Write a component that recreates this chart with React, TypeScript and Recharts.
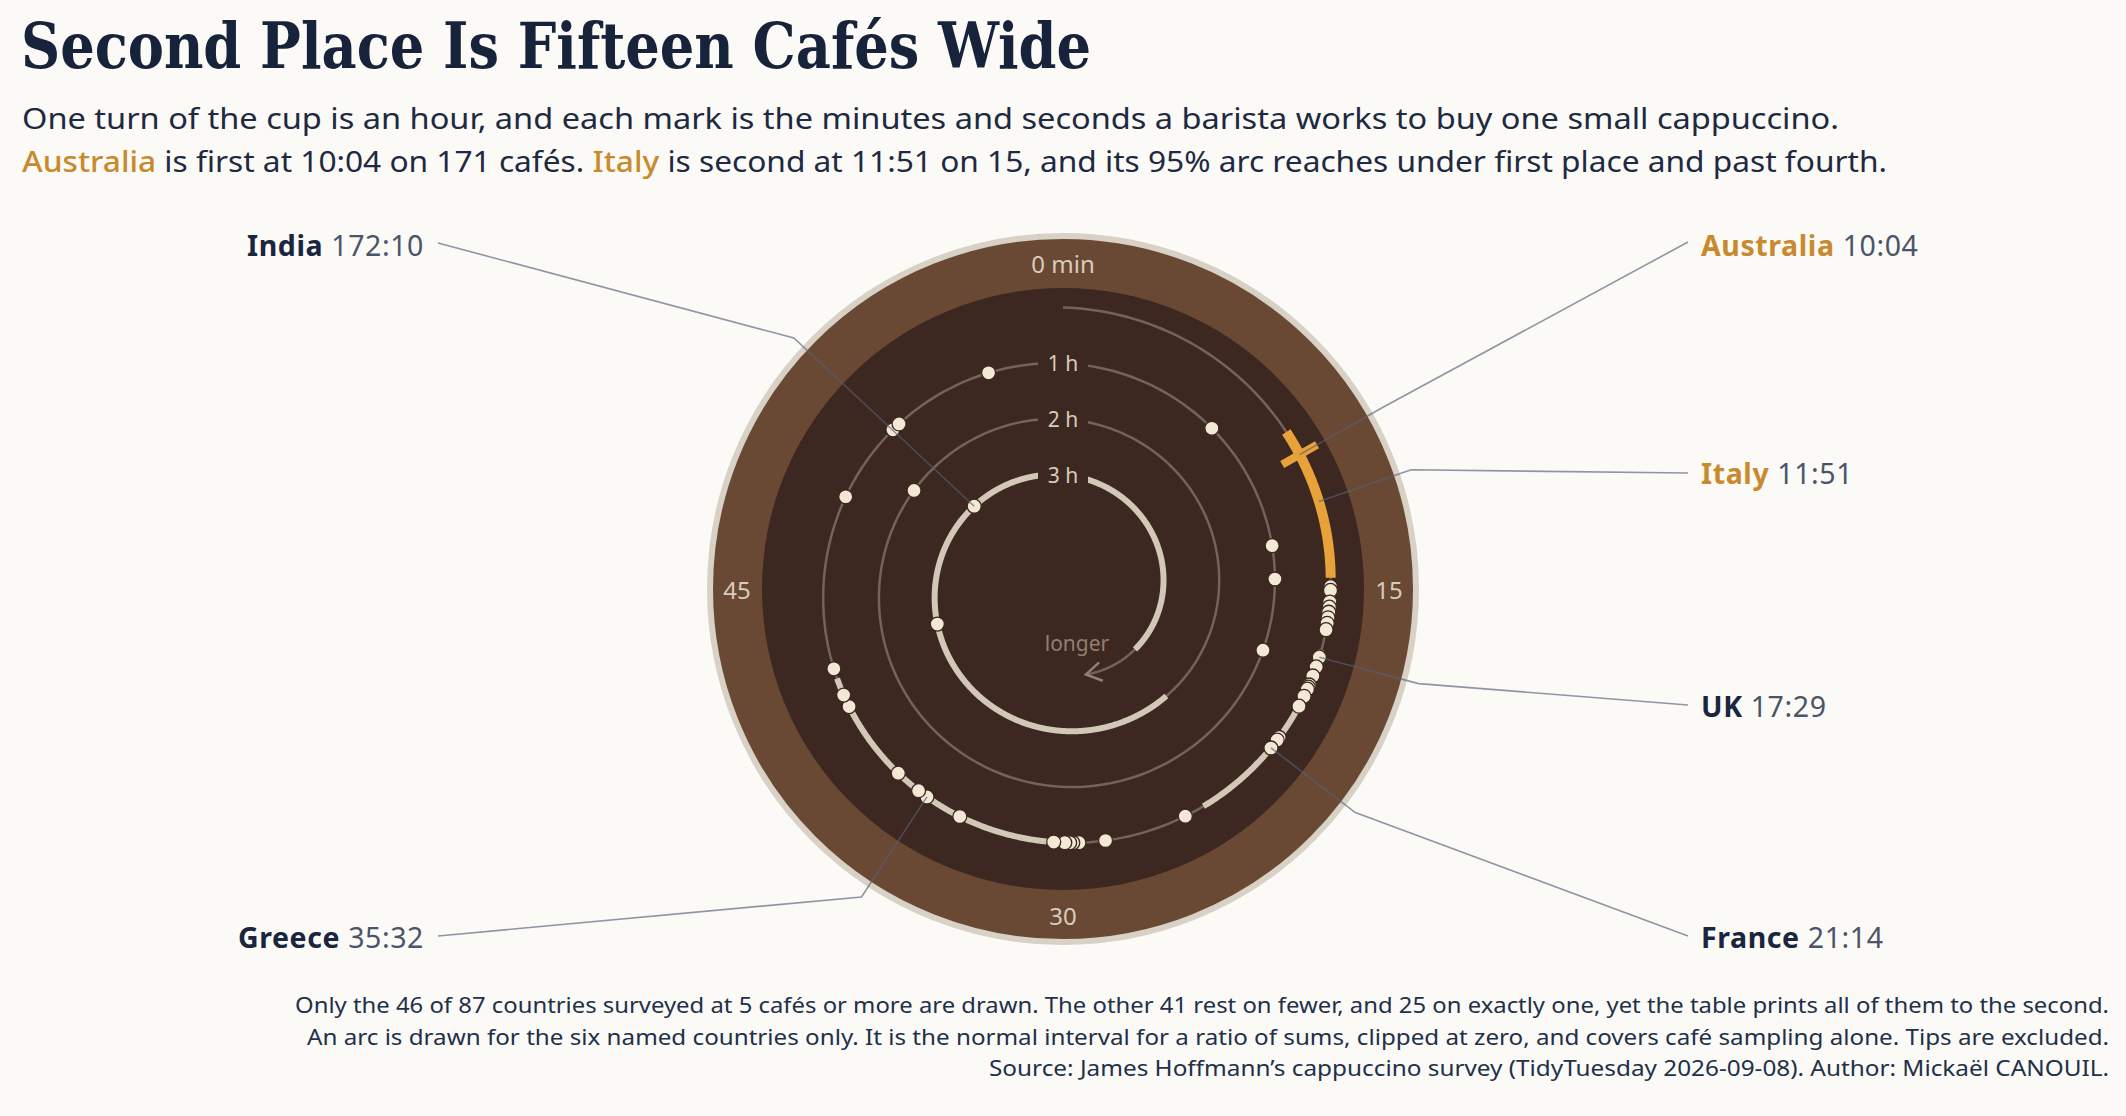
import React from 'react';
import { ScatterChart, Scatter, XAxis, YAxis } from 'recharts';

// ---------- data ----------
const surveyTimes: string[] = [
  '10:04', '11:51', '14:55', '15:03', '15:28', '15:39', '15:50', '16:02', '16:14', '16:28',
  '17:29', '17:51', '18:12', '18:33', '18:38', '18:43', '19:00', '19:24', '20:45', '20:52',
  '21:14', '25:17', '28:24', '29:24', '29:38', '29:45', '29:56', '30:21', '34:04', '35:32',
  '35:56', '36:58', '40:12', '40:42', '41:48', '48:50', '52:11', '52:32', '56:50', '67:08',
  '73:03', '74:33', '77:50', '110:35', '162:24', '172:10',
];

const namedCountries: string[] = ['Australia', 'Italy', 'UK', 'France', 'Greece', 'India'];
const namedTimes: string[] = ['10:04', '11:51', '17:29', '21:14', '35:32', '172:10'];
const namedLow: string[] = ['9:55', '9:09', '17:13', '17:57', '29:40', '142:40'];
const namedHigh: string[] = ['10:13', '14:36', '17:45', '24:31', '41:24', '201:40'];
const highlighted: string[] = ['Australia', 'Italy'];

const angleTicks: number[] = [0, 15, 30, 45];
const angleTickLabels: string[] = ['0 min', '15', '30', '45'];
const hourTicks: number[] = [60, 120, 180];
const hourTickLabels: string[] = ['1 h', '2 h', '3 h'];
const spiralEndMinutes = 207.5;

// ---------- layout / style ----------
const W = 2126;
const H = 1116;
const CX = 1063;
const CY = 589;
const R0 = 281.5;
const K = 0.93;
const TICK_R = 326;
const ELBOW_R = 368;

const labelLayout: Record<string, { side: 'left' | 'right'; ax: number; ay: number; tx: number; ty: number }> = {
  India: { side: 'left', ax: 438, ay: 243, tx: 424, ty: 256 },
  Greece: { side: 'left', ax: 438, ay: 936, tx: 424, ty: 948 },
  Australia: { side: 'right', ax: 1688, ay: 242, tx: 1701, ty: 256 },
  Italy: { side: 'right', ax: 1688, ay: 473, tx: 1701, ty: 484 },
  UK: { side: 'right', ax: 1688, ay: 705, tx: 1701, ty: 717 },
  France: { side: 'right', ax: 1688, ay: 936, tx: 1701, ty: 948 },
};

const C = {
  page: '#FBFAF6',
  rim: '#D8D1C5',
  ring: '#6A4934',
  cup: '#3C2820',
  spiral: '#72645A',
  arc: '#D3C7B7',
  orange: '#E8A23A',
  orangeText: '#C98A2E',
  dot: '#F3E7D5',
  navy: '#17233B',
  grey: '#4B556A',
  leader: '#566078',
  ringText: '#D8CCBC',
  muted: '#8F7F71',
};

// ---------- helpers ----------
const toMin = (s: string) => {
  const [m, sec] = s.split(':').map(Number);
  return m + sec / 60;
};
const radius = (t: number) => R0 - K * t;
const polar = (t: number, r: number = radius(t)) => {
  const a = ((t % 60) / 60) * 2 * Math.PI;
  return { x: r * Math.sin(a), y: r * Math.cos(a) };
};
const along = (lo: number, hi: number, step: number) => {
  const pts: { x: number; y: number }[] = [];
  for (let t = lo; t < hi; t += step) pts.push(polar(t));
  pts.push(polar(hi));
  return pts;
};

const spiralPts = along(0, spiralEndMinutes, 0.25);
const last = spiralPts[spiralPts.length - 1];
const prev = polar(spiralEndMinutes - 0.6);
const arrowLen = Math.hypot(last.x - prev.x, last.y - prev.y);
const arrowData = [{ ...last, ux: (last.x - prev.x) / arrowLen, uy: -(last.y - prev.y) / arrowLen }];

const dotData = surveyTimes
  .filter((s) => {
    const i = namedTimes.indexOf(s);
    return !(i >= 0 && highlighted.includes(namedCountries[i]));
  })
  .map((s) => polar(toMin(s)));

const arcs = namedCountries.map((n, i) => ({
  name: n,
  pts: along(toMin(namedLow[i]), toMin(namedHigh[i]), 0.05),
}));

const ausT = toMin(namedTimes[0]);
const ausTick = [polar(ausT, radius(ausT) - 20), polar(ausT, radius(ausT) + 20)];

const angleTickData = angleTicks.map((m, i) => ({ ...polar(m, TICK_R), label: angleTickLabels[i] }));
const hourTickData = hourTicks.map((t, i) => ({ ...polar(t), label: hourTickLabels[i] }));

const leaders = namedCountries.map((n, i) => {
  const t = toMin(namedTimes[i]);
  const L = labelLayout[n];
  return { name: n, pts: [polar(t), polar(t, ELBOW_R), { x: L.ax - CX, y: CY - L.ay }] };
});

// ---------- shapes ----------
const Empty = () => <g />;
const CupShape = (p: any) => (
  <g>
    <circle cx={p.cx} cy={p.cy} r={353} fill={C.ring} stroke={C.rim} strokeWidth={6} />
    <circle cx={p.cx} cy={p.cy} r={301} fill={C.cup} />
  </g>
);
const DotShape = (p: any) => (
  <circle cx={p.cx} cy={p.cy} r={7} fill={C.dot} stroke="#3B271F" strokeWidth={1.3} />
);
const AngleLabel = (p: any) => (
  <text x={p.cx} y={p.cy} textAnchor="middle" dominantBaseline="central" fontFamily="Noto Sans" fontSize={24} fill={C.ringText}>
    {p.payload.label}
  </text>
);
const HourLabel = (p: any) => (
  <g>
    <rect x={p.cx - 25} y={p.cy - 14} width={50} height={28} fill={C.cup} />
    <text x={p.cx} y={p.cy} textAnchor="middle" dominantBaseline="central" fontFamily="Noto Sans" fontSize={21} fill={C.ringText}>
      {p.payload.label}
    </text>
  </g>
);
const ArrowShape = (p: any) => {
  const { cx, cy, payload } = p;
  const L = 18;
  const a = 0.55;
  const arm = (s: number) => {
    const bx = -payload.ux;
    const by = -payload.uy;
    const c = Math.cos(s * a);
    const sn = Math.sin(s * a);
    return `${cx + (bx * c - by * sn) * L},${cy + (bx * sn + by * c) * L}`;
  };
  return <polyline points={`${arm(1)} ${cx},${cy} ${arm(-1)}`} fill="none" stroke={C.muted} strokeWidth={2.5} strokeLinejoin="miter" />;
};

const sans = 'Noto Sans, Lato, sans-serif';

export default function App() {
  return (
    <div style={{ position: 'absolute', left: 0, top: 0, width: W, height: H, background: C.page, overflow: 'hidden' }}>
      <div style={{ position: 'absolute', left: 0, top: 0 }}>
        <ScatterChart width={W} height={H} margin={{ top: 0, right: 0, bottom: 0, left: 0 }}>
          <XAxis type="number" dataKey="x" domain={[-CX, W - CX]} hide allowDataOverflow />
          <YAxis type="number" dataKey="y" domain={[CY - H, CY]} hide allowDataOverflow />
          <Scatter data={[{ x: 0, y: 0 }]} shape={CupShape} isAnimationActive={false} />
          <Scatter data={angleTickData} shape={AngleLabel} isAnimationActive={false} />
          <Scatter
            data={spiralPts}
            shape={Empty}
            line={{ stroke: C.spiral, strokeWidth: 2.5, fill: 'none' }}
            lineJointType="linear"
            isAnimationActive={false}
          />
          <Scatter data={arrowData} shape={ArrowShape} isAnimationActive={false} />
          {arcs
            .filter((a) => !highlighted.includes(a.name))
            .map((a) => (
              <Scatter
                key={a.name}
                data={a.pts}
                shape={Empty}
                line={{ stroke: C.arc, strokeWidth: 6, fill: 'none', strokeLinecap: 'butt' }}
                lineJointType="linear"
                isAnimationActive={false}
              />
            ))}
          <Scatter data={dotData} shape={DotShape} isAnimationActive={false} />
          {arcs
            .filter((a) => highlighted.includes(a.name))
            .map((a) => (
              <Scatter
                key={a.name}
                data={a.pts}
                shape={Empty}
                line={{ stroke: C.orange, strokeWidth: 10, fill: 'none', strokeLinecap: 'butt' }}
                lineJointType="linear"
                isAnimationActive={false}
              />
            ))}
          <Scatter
            data={ausTick}
            shape={Empty}
            line={{ stroke: C.orange, strokeWidth: 8, fill: 'none', strokeLinecap: 'butt' }}
            lineJointType="linear"
            isAnimationActive={false}
          />
          <Scatter data={hourTickData} shape={HourLabel} isAnimationActive={false} />
          {leaders.map((l) => (
            <Scatter
              key={'ld' + l.name}
              data={l.pts}
              shape={Empty}
              line={{ stroke: C.leader, strokeWidth: 1.6, strokeOpacity: 0.65, fill: 'none' }}
              lineJointType="linear"
              isAnimationActive={false}
            />
          ))}
        </ScatterChart>
      </div>
      <svg width={W} height={H} style={{ position: 'absolute', left: 0, top: 0, pointerEvents: 'none' }}>
        <text x={21} y={68} fontFamily="'DejaVu Serif Condensed', 'DejaVu Serif', serif" fontWeight={700} fontSize={64} fill={C.navy} textLength={1070} lengthAdjust="spacingAndGlyphs">
          Second Place Is Fifteen Cafés Wide
        </text>
        <text x={22} y={129} fontFamily={sans} fontSize={29} fill="#1E2942" textLength={1817} lengthAdjust="spacingAndGlyphs">
          One turn of the cup is an hour, and each mark is the minutes and seconds a barista works to buy one small cappuccino.
        </text>
        <text x={22} y={172} fontFamily={sans} fontSize={29} fill="#1E2942" textLength={1865} lengthAdjust="spacingAndGlyphs">
          <tspan fill={C.orangeText} fontWeight={500}>Australia</tspan>
          <tspan> is first at 10:04 on 171 cafés. </tspan>
          <tspan fill={C.orangeText} fontWeight={500}>Italy</tspan>
          <tspan> is second at 11:51 on 15, and its 95% arc reaches under first place and past fourth.</tspan>
        </text>
        {namedCountries.map((n, i) => {
          const L = labelLayout[n];
          return (
            <text
              key={'lb' + n}
              x={L.tx}
              y={L.ty}
              textAnchor={L.side === 'left' ? 'end' : 'start'}
              fontFamily={sans}
              fontSize={28.5}
              letterSpacing={0.6}
            >
              <tspan fontWeight={700} fill={highlighted.includes(n) ? C.orangeText : '#1A2540'}>{n}</tspan>
              <tspan fill={C.grey}>{' ' + namedTimes[i]}</tspan>
            </text>
          );
        })}
        <text x={1077} y={643} textAnchor="middle" dominantBaseline="central" fontFamily={sans} fontSize={21} fill={C.muted}>
          longer
        </text>
        <text x={2109} y={1013} textAnchor="end" fontFamily={sans} fontSize={21} fill="#22304A" textLength={1814} lengthAdjust="spacingAndGlyphs">
          Only the 46 of 87 countries surveyed at 5 cafés or more are drawn. The other 41 rest on fewer, and 25 on exactly one, yet the table prints all of them to the second.
        </text>
        <text x={2109} y={1045} textAnchor="end" fontFamily={sans} fontSize={21} fill="#22304A" textLength={1802} lengthAdjust="spacingAndGlyphs">
          An arc is drawn for the six named countries only. It is the normal interval for a ratio of sums, clipped at zero, and covers café sampling alone. Tips are excluded.
        </text>
        <text x={2109} y={1076} textAnchor="end" fontFamily={sans} fontSize={21} fill="#22304A" textLength={1120} lengthAdjust="spacingAndGlyphs">
          Source: James Hoffmann’s cappuccino survey (TidyTuesday 2026-09-08). Author: Mickaël CANOUIL.
        </text>
      </svg>
    </div>
  );
}
